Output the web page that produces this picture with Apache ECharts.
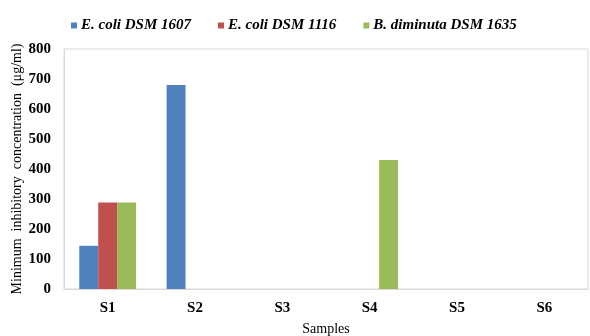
<!DOCTYPE html>
<html>
<head>
<meta charset="utf-8">
<script src="https://cdn.jsdelivr.net/npm/echarts@6/dist/echarts.min.js"></script>
<style>
html,body{margin:0;padding:0;background:#fff;}
#chart{width:590px;height:336px;}
</style>
</head>
<body>
<div id="chart"></div>
<script>
const categories = ['S1', 'S2', 'S3', 'S4', 'S5', 'S6'];
const seriesNames = ['E. coli DSM 1607', 'E. coli DSM 1116', 'B. diminuta DSM 1635'];
const ecoli1607 = [144, 680, 0, 0, 0, 0];
const ecoli1116 = [288, 0, 0, 0, 0, 0];
const bdiminuta1635 = [288, 0, 0, 430, 0, 0];
const colors = ['#4f81bd', '#c0504d', '#9bbb59'];
const yMin = 0, yMax = 800, yStep = 100;

const font = "'Liberation Serif', 'Times New Roman', serif";
const chart = echarts.init(document.getElementById('chart'));
const values = [ecoli1607, ecoli1116, bdiminuta1635];
chart.setOption({
  animation: false,
  textStyle: { fontFamily: font },
  legend: {
    left: 66, top: 13,
    itemWidth: 6, itemHeight: 6, itemGap: 27,
    icon: 'rect',
    textStyle: { fontFamily: font, fontSize: 15, fontWeight: 'bold', fontStyle: 'italic', color: '#000', padding: [0,0,0,-1] },
    data: seriesNames
  },
  grid: {
    left: 64, right: 2, top: 49, bottom: 47,
    outerBoundsMode: 'none',
    containLabel: false,
    show: true, borderColor: '#d9d9d9', borderWidth: 1
  },
  xAxis: {
    type: 'category', data: categories,
    name: 'Samples', nameLocation: 'middle', nameGap: 33,
    nameMoveOverlap: false,
    nameTextStyle: { fontFamily: font, fontSize: 14, color: '#000' },
    axisLine: { lineStyle: { color: '#d9d9d9' } },
    axisTick: { show: false },
    axisLabel: { fontFamily: font, fontSize: 15, fontWeight: 'bold', color: '#000', margin: 12 }
  },
  yAxis: {
    type: 'value', min: yMin, max: yMax, interval: yStep,
    name: 'Minimum  inhibitory  concentration  (μg/ml)', nameLocation: 'middle', nameGap: 40,
    nameMoveOverlap: false,
    nameTextStyle: { fontFamily: font, fontSize: 14, color: '#000' },
    axisLine: { show: true, lineStyle: { color: '#d9d9d9' } },
    axisTick: { show: false },
    splitLine: { show: false },
    axisLabel: { fontFamily: font, fontSize: 15, fontWeight: 'bold', color: '#000', margin: 13 }
  },
  series: seriesNames.map((n, i) => ({
    name: n, type: 'bar', data: values[i],
    itemStyle: { color: colors[i] },
    barGap: '0%', barCategoryGap: '35%'
  }))
});
</script>
</body>
</html>
